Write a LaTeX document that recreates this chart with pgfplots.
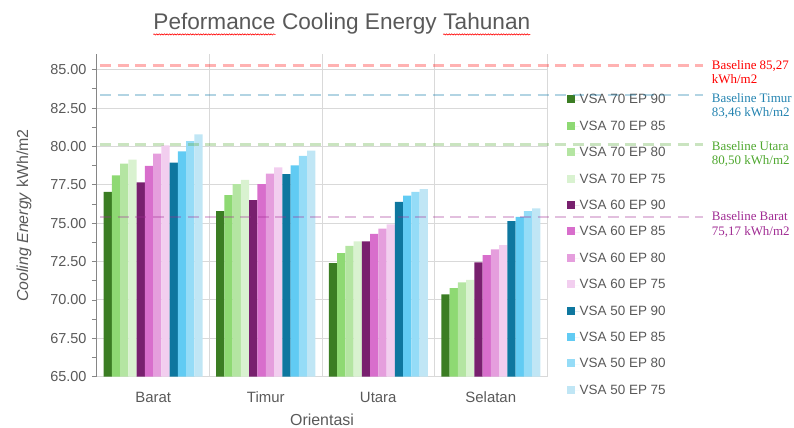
\documentclass[border=0pt]{standalone}
\usepackage{pgfplots}
\pgfplotsset{compat=1.18}
\usepackage{pgfplotstable}
\usetikzlibrary{decorations.pathmorphing}
\usepackage{fontspec}
\setmainfont{Liberation Sans}
\newfontfamily\serifb{Liberation Serif}

\definecolor{c1}{HTML}{3B7D23}
\definecolor{c2}{HTML}{8ED973}
\definecolor{c3}{HTML}{B4E5A2}
\definecolor{c4}{HTML}{D9F2D0}
\definecolor{c5}{HTML}{78206E}
\definecolor{c6}{HTML}{D86ECC}
\definecolor{c7}{HTML}{E59EDD}
\definecolor{c8}{HTML}{F2CEEF}
\definecolor{c9}{HTML}{0E779F}
\definecolor{c10}{HTML}{61CBF3}
\definecolor{c11}{HTML}{95DCF7}
\definecolor{c12}{HTML}{C0E6F5}
\definecolor{labelgray}{HTML}{595959}
\definecolor{gridgray}{HTML}{D9D9D9}
\definecolor{axgray}{HTML}{868686}
\definecolor{bred}{HTML}{FF0000}
\definecolor{bblue}{HTML}{2383B0}
\definecolor{bgreen}{HTML}{4EA72E}
\definecolor{bpurple}{HTML}{A02B93}

\pgfplotstableread{
x s1 s2 s3 s4 s5 s6 s7 s8 s9 s10 s11 s12
0 77.04 78.12 78.88 79.14 77.65 78.73 79.53 80.06 78.95 79.68 80.34 80.79
1 75.78 76.82 77.54 77.82 76.50 77.54 78.23 78.64 78.19 78.77 79.38 79.73
2 72.40 73.05 73.52 73.81 73.81 74.30 74.65 74.93 76.39 76.80 77.04 77.21
3 70.36 70.77 71.14 71.31 72.44 72.92 73.29 73.57 75.13 75.41 75.78 75.96
}\data

\begin{document}
\begin{tikzpicture}
\useasboundingbox (-97bp,-51.3bp) rectangle (697bp,376.7bp);
\begin{axis}[
  name=ax, scale only axis, width=450bp, height=322.4bp,
  xmin=-0.5, xmax=3.5, ymin=65, ymax=86, enlargelimits=false,
  ybar=0pt, bar width=8.25bp,
  axis x line*=bottom, axis y line*=left,
  x axis line style={draw=gridgray, line width=1bp, -},
  y axis line style={draw=axgray, line width=1bp, -},
  xtick={0,1,2,3}, xticklabels={Barat,Timur,Utara,Selatan},
  xtick style={draw=none},
  minor xtick={0.5,1.5,2.5,3.5}, xminorgrids=true,
  minor x tick style={draw=none},
  ytick={65,67.5,70,72.5,75,77.5,80,82.5,85}, minor y tick num=1,
  ymajorgrids=true,
  ytick align=outside,
  major tick length=5bp, minor tick length=5bp,
  y tick style={draw=axgray, line width=0.8bp},
  major grid style={draw=gridgray, line width=1bp},
  minor grid style={draw=gridgray, line width=1bp},
  yticklabel style={font=\fontsize{14.5}{16}\selectfont, text=labelgray, xshift=-2bp,
    /pgf/number format/.cd, fixed, fixed zerofill, precision=2, assume math mode=true},
  xticklabel style={font=\fontsize{15}{17}\selectfont, text=labelgray, anchor=base, yshift=-20.8bp},
  legend style={at={(axis cs:3.678,83.44)}, anchor=north west, draw=none, fill=none,
    font=\fontsize{13.5}{15}\selectfont, text=labelgray, row sep=13.4bp, inner sep=0pt,
    nodes={inner sep=0pt, text height=10bp, text depth=3bp}},
  legend cell align=left,
  legend image code/.code={\fill[#1,draw=none] (0bp,-3bp) rectangle (8bp,5bp); \path (0bp,0bp) -- (12.5bp,0bp);},
]
\addplot[fill=c1, draw=none] table[x=x,y=s1]{\data};
\addplot[fill=c2, draw=none] table[x=x,y=s2]{\data};
\addplot[fill=c3, draw=none] table[x=x,y=s3]{\data};
\addplot[fill=c4, draw=none] table[x=x,y=s4]{\data};
\addplot[fill=c5, draw=none] table[x=x,y=s5]{\data};
\addplot[fill=c6, draw=none] table[x=x,y=s6]{\data};
\addplot[fill=c7, draw=none] table[x=x,y=s7]{\data};
\addplot[fill=c8, draw=none] table[x=x,y=s8]{\data};
\addplot[fill=c9, draw=none] table[x=x,y=s9]{\data};
\addplot[fill=c10, draw=none] table[x=x,y=s10]{\data};
\addplot[fill=c11, draw=none] table[x=x,y=s11]{\data};
\addplot[fill=c12, draw=none] table[x=x,y=s12]{\data};
\legend{VSA 70 EP 90, VSA 70 EP 85, VSA 70 EP 80, VSA 70 EP 75,
        VSA 60 EP 90, VSA 60 EP 85, VSA 60 EP 80, VSA 60 EP 75,
        VSA 50 EP 90, VSA 50 EP 85, VSA 50 EP 80, VSA 50 EP 75}
\end{axis}

\begin{axis}[
  scale only axis, width=450bp, height=322.4bp,
  xmin=-0.5, xmax=3.5, ymin=65, ymax=86, enlargelimits=false,
  hide axis, clip=false,
]
\addplot[draw=bred, opacity=0.3, line width=2.5bp, dash pattern=on 11bp off 6.5bp] coordinates {(-0.473,85.27) (4.887,85.27)};
\addplot[draw=bblue, opacity=0.35, line width=2.5bp, dash pattern=on 11bp off 6.5bp] coordinates {(-0.473,83.35) (4.887,83.35)};
\addplot[draw=bgreen, opacity=0.3, line width=2.5bp, dash pattern=on 11bp off 6.5bp] coordinates {(-0.473,80.12) (4.887,80.12)};
\addplot[draw=bpurple, opacity=0.3, line width=2.5bp, dash pattern=on 11bp off 6.5bp] coordinates {(-0.473,75.41) (4.887,75.41)};

\tikzset{blab/.style={anchor=base west, inner sep=0pt, font=\serifb\fontsize{13}{14}\selectfont},
  ttl/.style={anchor=base west, inner sep=0pt, text=labelgray, font=\fontsize{22.7}{26}\selectfont},
  squig/.style={draw=red, line width=0.6bp, decorate, decoration={snake, amplitude=0.6bp, segment length=2.6bp}}}
\node[blab, text=bred] at (axis cs:4.964,85.00) {Baseline 85,27};
\node[blab, text=bred] at (axis cs:4.964,84.09) {kWh/m2};
\node[blab, text=bblue] at (axis cs:4.964,82.89) {Baseline Timur};
\node[blab, text=bblue] at (axis cs:4.964,81.98) {83,46 kWh/m2};
\node[blab, text=bgreen] at (axis cs:4.964,79.75) {Baseline Utara};
\node[blab, text=bgreen] at (axis cs:4.964,78.82) {80,50 kWh/m2};
\node[blab, text=bpurple] at (axis cs:4.964,75.15) {Baseline Barat};
\node[blab, text=bpurple] at (axis cs:4.964,74.17) {75,17 kWh/m2};

\node[ttl] (t1) at (axis cs:0,87.62) {Peformance};
\node[ttl] (t2) at (t1.base east) {\ Cooling Energy\ \mbox{}};
\node[ttl] (t3) at (t2.base east) {Tahunan};
\draw[squig] ([yshift=-5bp]t1.base west) -- ([yshift=-5bp]t1.base east);
\draw[squig] ([yshift=-5bp]t3.base west) -- ([yshift=-5bp]t3.base east);

\node[anchor=base, inner sep=0pt, rotate=90, text=labelgray, font=\fontsize{16}{18}\selectfont]
  at (axis cs:-1.113,75.49) {\textit{Cooling Energy} kWh/m2};
\node[anchor=base, inner sep=0pt, text=labelgray, font=\fontsize{16}{18}\selectfont]
  at (axis cs:1.5,61.83) {Orientasi};
\end{axis}
\end{tikzpicture}
\end{document}
